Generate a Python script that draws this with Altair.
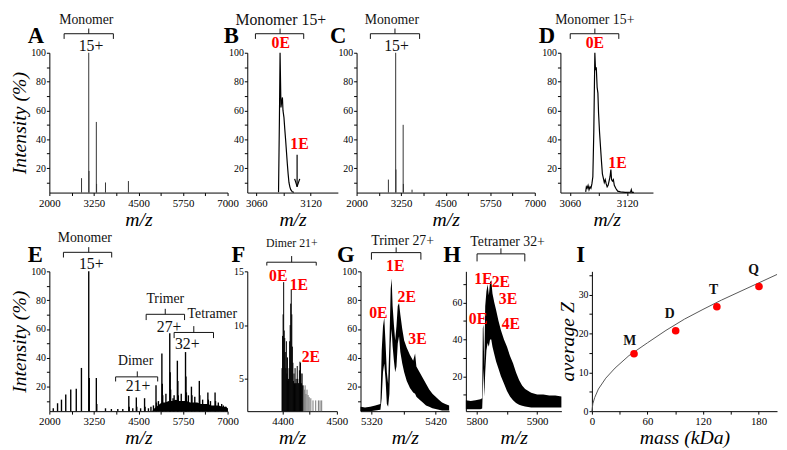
import altair as alt
import pandas as pd

FONT = "Liberation Serif"
RED = "#ff0000"
H = 142

# ---------------- data ----------------
# A: stick spectrum
A_mz = [2903, 3105, 3112, 3318, 3325, 3575, 4218]
A_int = [13, 100, 18, 52, 9, 10, 11]
# B: 15+ monomer peak (trace)
B_mz = [3084.5, 3085.5, 3086.2, 3087.2, 3088.0, 3088.8, 3089.4, 3090.5, 3091.4, 3092.4,
        3093.3, 3094.2, 3095.1, 3096.0, 3097.0, 3098.0, 3099.7, 3101.5]
B_int = [3.2, 55, 100, 62, 66, 69, 60, 55, 47, 39, 31, 23, 16, 10, 7, 5, 3.5, 3.2]
# C: stick spectrum
C_mz = [2893, 3097, 3104, 3307, 3314, 3556]
C_int = [12, 100, 19, 50, 9, 5]
# D: 15+ monomer peak (trace)
D_mz = [3076.5, 3077.2, 3078.0, 3079.0, 3080.0, 3081.0, 3082.0, 3083.0, 3084.0, 3085.0,
        3086.1, 3086.8, 3087.6, 3088.5, 3089.3, 3090.0, 3091.0, 3092.0, 3093.0, 3094.0,
        3095.0, 3096.0, 3097.0, 3098.0, 3099.0, 3100.0, 3101.0, 3102.0, 3102.9, 3103.6,
        3104.5, 3105.5, 3106.5, 3108.0, 3110.0, 3113.0, 3118.0, 3123.5, 3124.3, 3125.0, 3127.0]
D_int = [3.5, 7, 6, 8, 5, 7, 6, 9, 14, 45,
         100, 88, 90, 76, 72, 58, 45, 35, 25, 16,
         13, 10, 12, 9, 7, 8, 11, 14, 19, 12,
         11, 12, 8, 6, 4, 3.5, 3.2, 3.3, 5, 3.2, 3.2]
# E: full spectrum sticks
E_mz = [2110, 2230, 2340, 2460, 2600, 2755, 2900, 3105, 3120, 3318,
        3330, 3575, 3740, 3920, 4060, 4229, 4240, 4340, 4440, 4452,
        4560, 4671, 4685, 4780, 4850, 4920, 4992, 5005, 5060, 5157,
        5168, 5180, 5270, 5378, 5390, 5402, 5470, 5500, 5591, 5605,
        5618, 5700, 5820, 5832, 5845, 5900, 5986, 6000, 6080, 6207,
        6220, 6300, 6447, 6460, 6520, 6649, 6662, 6740, 6834, 6880, 6953, 6990]
E_int = [5, 8.5, 11, 14.5, 18, 18.5, 33, 100, 26, 26,
         8, 5, 4.5, 4.5, 4.5, 13.5, 6, 5, 12.5, 6,
         5, 12, 6, 5, 6, 7, 21, 9, 10, 43,
         22, 14, 15, 57, 30, 18, 12, 14, 38, 24,
         14, 15, 44, 27, 16, 14, 20, 14, 13, 24,
         14, 11, 16, 11, 10, 16, 10, 9, 8, 7, 6, 5]
E_bg_mz = [4880, 4950, 5050, 5150, 5250, 5350, 5450, 5550, 5650, 5750, 5850, 5950,
           6050, 6150, 6250, 6350, 6450, 6550, 6650, 6750, 6850, 6950, 7000]
E_bg_int = [3, 5, 7, 9, 9, 10, 10, 11, 10, 10, 10, 9, 9, 9, 8, 8, 8, 7, 7, 7, 6, 6, 5]
# F: dimer 21+ sticks
F_dense_mz = [4399, 4400, 4401, 4402, 4403, 4404, 4405, 4406, 4407, 4408, 4409, 4410, 4411,
              4412, 4413, 4414, 4415, 4416, 4417, 4418, 4419, 4420, 4421, 4422, 4423, 4424,
              4425, 4426, 4427, 4428, 4429, 4430, 4431, 4432, 4433, 4434, 4435, 4436, 4437]
F_dense_int = [6, 9, 11, 14, 9.5, 8.8, 7.5, 6, 8.5, 5.5, 7, 4.8, 5,
               6, 8.5, 10, 12, 13.3, 11, 8, 6.5, 4.8, 5.5, 4.6, 6, 4.6,
               5, 4.6, 6.2, 5, 4.6, 4.6, 5.8, 6.6, 6.5, 5.5, 4.6, 5.5, 4.4]
F_sparse_mz = [4438.5, 4440, 4441.5, 4443, 4445, 4447, 4449, 4452, 4456, 4461, 4466, 4469, 4472]
F_sparse_int = [4.4, 4, 4.4, 3.6, 4, 3.5, 3.3, 3.2, 3, 3, 3, 3, 3]
# G: trimer 27+ (noisy trace drawn as a band)
G_mz = [5303, 5310, 5318, 5326, 5334, 5336, 5338, 5340, 5342, 5344,
        5346, 5348, 5350, 5351.5, 5353, 5355, 5357, 5359, 5361, 5363,
        5365, 5368, 5371, 5375, 5380, 5385, 5388, 5390, 5395, 5400,
        5405, 5410, 5415, 5420, 5425, 5430, 5435, 5441]
G_hi = [6, 5.5, 6, 7, 8, 45, 62, 68, 50, 30,
        22, 50, 88, 95, 76, 63, 52, 62, 76, 78,
        70, 60, 52, 47, 42, 38, 43, 34, 30, 26,
        22, 18, 15, 13, 11, 9, 8, 7]
G_lo = [3, 3, 3, 3.5, 4, 12, 30, 36, 25, 8,
        6, 15, 50, 60, 48, 38, 30, 34, 50, 55,
        44, 36, 30, 24, 19, 16, 15, 13, 11, 9,
        7, 6, 5, 4.5, 4, 3.5, 3.5, 3.5]
# H: tetramer 32+ (noisy trace drawn as a band)
H_mz = [5782, 5790, 5798, 5806, 5809, 5810, 5811, 5812.5, 5814, 5816,
        5818, 5820, 5822, 5824, 5826, 5829, 5832, 5836, 5840, 5845,
        5850, 5855, 5860, 5865, 5870, 5875, 5880, 5890, 5900, 5910,
        5920, 5930, 5940]
H_hi = [7, 6.5, 7, 7.5, 8, 46, 48, 25, 58, 66,
        70, 64, 71, 72, 65, 60, 56, 50, 45, 40,
        36, 31, 27, 22, 18, 15, 13, 11, 10, 10,
        9.5, 9.5, 9]
H_lo = [2, 2, 2, 2, 2.5, 12, 24, 9, 22, 34,
        38, 36, 40, 40, 36, 32, 28, 24, 20, 16,
        12, 9, 7, 5.5, 4.5, 4, 3.5, 3, 3, 3,
        3, 3, 3]
# I: average charge vs mass
I_mass = [45.5, 90.5, 135, 180.5]
I_z = [14.8, 20.7, 26.9, 32.1]
I_lab = ["M", "D", "T", "Q"]
I_lab_x = [41, 84, 131.5, 174.7]
I_lab_y = [18, 24.9, 31.2, 36.3]
I_fit_mass = [0, 1, 3, 7, 15, 25, 40, 60, 80, 100, 120, 140, 160, 180, 200]
I_fit_z = [0, 1.9, 3.5, 5.7, 8.5, 11.1, 14.3, 17.6, 20.8, 23.7, 26.2, 28.6, 30.8, 33.0, 35.2]

# tick lists
WIDE_T = [2000, 2625, 3250, 3875, 4500, 5125, 5750, 6375, 7000]
WIDE_L = [2000, 3250, 4500, 5750, 7000]
INT_T = [10, 20, 30, 40, 50, 60, 70, 80, 90, 100]
INT_L = [20, 40, 60, 80, 100]


def sticks(mz, vals, base):
    return pd.DataFrame({"mz": mz, "v": vals, "b": [base] * len(mz)})


def panel(p):
    xs = alt.Scale(domain=p["xdom"], nice=False, zero=False)
    ys = alt.Scale(domain=p["ydom"], nice=False, zero=False)
    xax = alt.Axis(values=p["xt"], labelExpr=f"indexof({p['xl']}, datum.value) >= 0 ? datum.label : ''",
                   title=p.get("xtitle", "m/z"), format="d", labelFlush=False, labelOverlap=False,
                   labelFontSize=11, labelPadding=2, titlePadding=1)
    yax = alt.Axis(values=p["yt"], labelExpr=f"indexof({p['yl']}, datum.value) >= 0 ? datum.label : ''",
                   title=p.get("ytitle"), format="d", labelOverlap=False, labelFontSize=10,
                   labelPadding=1, titlePadding=1)

    def X(f):
        return alt.X(f"{f}:Q", scale=xs, axis=xax)

    def Y(f):
        return alt.Y(f"{f}:Q", scale=ys, axis=yax)

    layers = []
    for kind, df, style in p["series"]:
        c = alt.Chart(df)
        if kind == "stick":
            layers.append(c.mark_rule(**style).encode(x=X("mz"), y=Y("v"), y2=alt.Y2("b")))
        elif kind == "line":
            layers.append(c.mark_line(**style).encode(x=X("mz"), y=Y("v")))
        elif kind == "band":
            layers.append(c.mark_area(**style).encode(x=X("mz"), y=Y("hi"), y2=alt.Y2("lo")))
        elif kind == "area":
            layers.append(c.mark_area(**style).encode(x=X("mz"), y=Y("v"), y2=alt.Y2("b")))
        elif kind == "point":
            layers.append(c.mark_circle(**style).encode(x=X("mz"), y=Y("v")))
        elif kind == "seg":
            layers.append(c.mark_rule(**style).encode(x=X("x"), x2=alt.X2("x2"), y=Y("y"), y2=alt.Y2("y2")))

    segs = []
    for x1, x2, xc, yl, ye, yu in p.get("brackets", []):
        segs += [(x1, x2, yl, yl), (x1, x1, yl, ye), (x2, x2, yl, ye), (xc, xc, yl, yu)]
    if segs:
        bdf = pd.DataFrame(segs, columns=["x", "x2", "y", "y2"])
        layers.append(alt.Chart(bdf).mark_rule(color="#111", strokeWidth=1).encode(
            x=X("x"), x2=alt.X2("x2"), y=Y("y"), y2=alt.Y2("y2")))
    if p.get("txt"):
        tx, ty, tt, ts = p["txt"]
        tdf = pd.DataFrame({"x": tx, "y": ty, "t": tt, "s": ts})
        layers.append(alt.Chart(tdf).mark_text(font=FONT, baseline="middle", align="center", color="#111").encode(
            x=X("x"), y=Y("y"), text="t:N", size=alt.Size("s:Q", scale=None)))
    if p.get("red"):
        rx, ry, rt = p["red"]
        rdf = pd.DataFrame({"x": rx, "y": ry, "t": rt})
        layers.append(alt.Chart(rdf).mark_text(font=FONT, fontSize=16, fontWeight="bold", color=RED,
                                               baseline="middle", align="center").encode(
            x=X("x"), y=Y("y"), text="t:N"))
    if p.get("bold"):
        bx, by, bt = p["bold"]
        bd = pd.DataFrame({"x": bx, "y": by, "t": bt})
        layers.append(alt.Chart(bd).mark_text(font=FONT, fontSize=14, fontWeight="bold", color="#111",
                                              baseline="middle", align="center").encode(
            x=X("x"), y=Y("y"), text="t:N"))
    ldf = pd.DataFrame({"x": [p["xdom"][0]], "y": [p["ydom"][1]], "t": [p["letter"]]})
    layers.append(alt.Chart(ldf).mark_text(font=FONT, fontSize=23, fontWeight="bold", color="#000",
                                           align="left", baseline="alphabetic", dx=p["ldx"], dy=-10).encode(
        x=X("x"), y=Y("y"), text="t:N"))
    return alt.layer(*layers).properties(width=p["w"], height=H)


TOP_BR = (113.2, 109.6, 116.8)

A = panel(dict(
    xdom=[2000, 7000], ydom=[3, 100], w=181, xt=WIDE_T, xl=WIDE_L, yt=INT_T, yl=INT_L,
    ytitle="Intensity (%)", letter="A", ldx=-22,
    series=[("stick", sticks(A_mz, A_int, 3), dict(color="#333", strokeWidth=1))],
    brackets=[(2414, 3796, 3105) + TOP_BR],
    txt=([3036, 3170], [123.0, 104.8], ["Monomer", "15+"], [14, 16]),
))
B = panel(dict(
    xdom=[3050, 3150], ydom=[3, 100], w=92, xt=[3060, 3090, 3120], xl=[3060, 3120], yt=INT_T, yl=INT_L,
    letter="B", ldx=-24,
    series=[("line", sticks(B_mz, B_int, 3), dict(color="#000", strokeWidth=1.2)),
            ("seg", pd.DataFrame({"x": [3105, 3105, 3105], "x2": [3105, 3102.3, 3107.9],
                                  "y": [29.3, 7.1, 7.1], "y2": [7.1, 12.5, 12.5]}),
             dict(color="#000", strokeWidth=1.2))],
    brackets=[(3059, 3112.3, 3086.2) + TOP_BR],
    txt=([3087], [123.0], ["Monomer 15+"], [16]),
    red=([3087, 3107.6], [106.5, 36.4], ["0E", "1E"]),
))
C = panel(dict(
    xdom=[2000, 7000], ydom=[3, 100], w=181, xt=WIDE_T, xl=WIDE_L, yt=INT_T, yl=INT_L,
    letter="C", ldx=-27,
    series=[("stick", sticks(C_mz, C_int, 3), dict(color="#333", strokeWidth=1))],
    brackets=[(2387, 3768, 3077) + TOP_BR],
    txt=([2989, 3119], [123.0, 104.8], ["Monomer", "15+"], [14, 16]),
))
D = panel(dict(
    xdom=[3050, 3147], ydom=[3, 100], w=94, xt=[3060, 3090, 3120], xl=[3060, 3120], yt=INT_T, yl=INT_L,
    letter="D", ldx=-22,
    series=[("line", sticks(D_mz, D_int, 3), dict(color="#000", strokeWidth=1.2))],
    brackets=[(3060.3, 3111.2, 3086.1) + TOP_BR],
    txt=([3086], [123.0], ["Monomer 15+"], [14]),
    red=([3086.1, 3109.9], [106.5, 23.2], ["0E", "1E"]),
))
E = panel(dict(
    xdom=[2000, 7000], ydom=[3, 100], w=181, xt=WIDE_T, xl=WIDE_L, yt=INT_T, yl=INT_L,
    ytitle="Intensity (%)", letter="E", ldx=-22,
    series=[("area", sticks(E_bg_mz, E_bg_int, 3), dict(color="#000")),
            ("stick", sticks(E_mz, E_int, 3), dict(color="#000", strokeWidth=1.4))],
    brackets=[(2395, 3749, 3105, 113.2, 109.6, 116.8),
              (3859, 5039, 4467, 26.8, 23.6, 30.6),
              (4716, 5793, 5251, 70.2, 66.2, 74.0),
              (5500, 6605, 6052, 57.6, 53.7, 62.0)],
    txt=([2994, 3174, 4421, 4486, 5251, 5361, 6572, 5867],
         [123.0, 104.8, 37.5, 20.7, 80.7, 61.6, 70.2, 49.5],
         ["Monomer", "15+", "Dimer", "21+", "Trimer", "27+", "Tetramer", "32+"],
         [14, 16, 14, 16, 14, 16, 14, 16]),
))
F = panel(dict(
    xdom=[4335, 4500], ydom=[2, 15], w=91, xt=[4400, 4450, 4500], xl=[4400, 4500],
    yt=[5, 10, 15], yl=[5, 10, 15], letter="F", ldx=-16,
    series=[("stick", sticks(F_sparse_mz, F_sparse_int, 2), dict(color="#777", strokeWidth=1)),
            ("stick", sticks(F_dense_mz, F_dense_int, 2), dict(color="#000", strokeWidth=1))],
    brackets=[(4371, 4462, 4416.7, 15.85, 15.54, 16.42)],
    txt=([4417], [17.6], ["Dimer 21+"], [12]),
    red=([4392, 4430, 4452], [14.6, 13.7, 7.05], ["0E", "1E", "2E"]),
))
G = panel(dict(
    xdom=[5303, 5441], ydom=[3, 100], w=90, xt=[5320, 5370, 5420], xl=[5320, 5420], yt=INT_T, yl=INT_L,
    letter="G", ldx=-24,
    series=[("band", pd.DataFrame({"mz": G_mz, "hi": G_hi, "lo": G_lo}), dict(color="#000"))],
    brackets=[(5320, 5397, 5358.5, 113.0, 108.1, 116.6)],
    txt=([5368.6], [121.1], ["Trimer 27+"], [14]),
    red=([5330.8, 5357, 5375, 5391.7], [71, 103.6, 82.3, 53], ["0E", "1E", "2E", "3E"]),
))
Hp = panel(dict(
    xdom=[5782, 5940], ydom=[1, 77], w=97, xt=[5800, 5850, 5900], xl=[5800, 5900],
    yt=[10, 20, 30, 40, 50, 60, 70], yl=[20, 40, 60], letter="H", ldx=-23,
    series=[("band", pd.DataFrame({"mz": H_mz, "hi": H_hi, "lo": H_lo}), dict(color="#000"))],
    brackets=[(5800.5, 5879.5, 5840, 86.5, 82.4, 89.5)],
    txt=([5851], [93], ["Tetramer 32+"], [14]),
    red=([5802, 5811, 5840, 5851.6, 5856.5], [51, 72.8, 71, 61.8, 48.3], ["0E", "1E", "2E", "3E", "4E"]),
))
I = panel(dict(
    xdom=[0, 200], ydom=[0, 36], w=188, xt=[0, 30, 60, 90, 120, 150, 180], xl=[0, 60, 120, 180],
    yt=[0, 5, 10, 15, 20, 25, 30, 35], yl=[0, 10, 20, 30], ytitle="average Z", xtitle="mass (kDa)",
    letter="I", ldx=-16,
    series=[("line", pd.DataFrame({"mz": I_fit_mass, "v": I_fit_z}), dict(color="#555", strokeWidth=1)),
            ("point", pd.DataFrame({"mz": I_mass, "v": I_z}), dict(color=RED, size=60, opacity=1))],
    bold=(I_lab_x, I_lab_y, I_lab),
))


def spacer(w):
    return alt.Chart(pd.DataFrame({"a": [0]})).mark_point(opacity=0).encode(
        x=alt.X("a:Q", axis=None), y=alt.Y("a:Q", axis=None)).properties(width=w, height=H)


top = alt.hconcat(A, spacer(20), B, spacer(19), C, spacer(26), D, spacing=0, bounds="flush")
bottom = alt.hconcat(E, spacer(20), F, spacer(24), G, spacer(17), Hp, spacer(31), I,
                     spacing=0, bounds="flush")

chart = alt.vconcat(top, bottom, spacing=2).properties(
    padding={"left": 2, "top": 0, "right": 0, "bottom": 0}
).configure_axis(
    labelFont=FONT, titleFont=FONT, titleFontSize=20, titleFontStyle="italic", titleFontWeight="normal",
    domainColor="#000", tickColor="#000", labelColor="#000", titleColor="#000",
    tickSize=3, grid=False,
).configure_view(stroke=None)

chart.save("out.html", embed_options={"renderer": "svg", "actions": False})
